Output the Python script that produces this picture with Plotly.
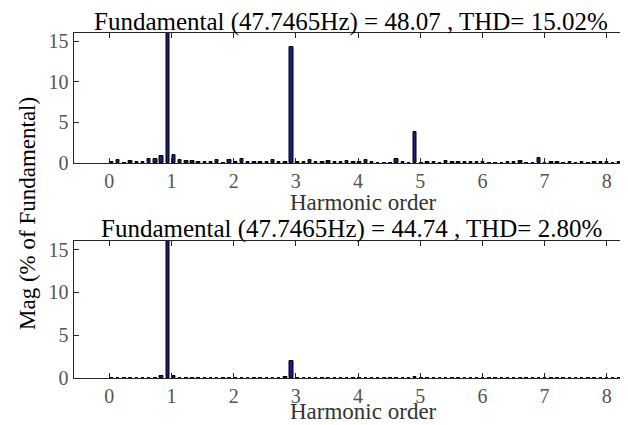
import plotly.graph_objects as go

# The page body adds an 8 px offset; the figure fills the rest of the 628x425 window.
OFF = 8
W, H = 628 - OFF, 425 - OFF

# Harmonic-order bins (FFT bin k shown at its harmonic-order position)
bin_index = list(range(1, 84))
bin_step = 0.0995
bin_offset = -0.055
orders = [round(bin_step * k + bin_offset, 4) for k in bin_index]

# Top spectrum: magnitudes (% of fundamental), bins 1..83
mag_top = [
    0.17, 0.37, 0.05, 0.20, 0.17, 0.17, 0.50, 0.50, 0.90, 100.0,
    0.95, 0.40, 0.30, 0.20, 0.17, 0.17, 0.17, 0.37, 0.02, 0.37,
    0.15, 0.50, 0.15, 0.08, 0.08, 0.15, 0.37, 0.17, 0.15, 14.25,
    0.12, 0.15, 0.37, 0.08, 0.08, 0.25, 0.12, 0.12, 0.20, 0.08,
    0.12, 0.37, 0.12, 0.02, 0.02, 0.02, 0.55, 0.15, 0.02, 3.77,
    0.02, 0.15, 0.12, 0.02, 0.25, 0.10, 0.10, 0.08, 0.17, 0.15,
    0.12, 0.02, 0.02, 0.02, 0.08, 0.12, 0.30, 0.02, 0.02, 0.66,
    0.05, 0.08, 0.08, 0.02, 0.10, 0.02, 0.08, 0.02, 0.08, 0.10,
    0.08, 0.02, 0.08,
]

# Bottom spectrum: magnitudes (% of fundamental), bins 1..83
mag_bot = [
    0.03, 0.03, 0.03, 0.03, 0.03, 0.03, 0.03, 0.05, 0.27, 100.0,
    0.20, 0.04, 0.03, 0.03, 0.03, 0.03, 0.03, 0.03, 0.03, 0.03,
    0.03, 0.03, 0.03, 0.03, 0.03, 0.03, 0.03, 0.03, 0.10, 1.95,
    0.05, 0.03, 0.03, 0.03, 0.03, 0.03, 0.03, 0.03, 0.03, 0.03,
    0.03, 0.03, 0.03, 0.03, 0.03, 0.03, 0.03, 0.03, 0.03, 0.12,
    0.03, 0.03, 0.03, 0.03, 0.03, 0.03, 0.03, 0.03, 0.03, 0.03,
    0.03, 0.03, 0.03, 0.03, 0.03, 0.03, 0.03, 0.03, 0.03, 0.03,
    0.03, 0.03, 0.03, 0.03, 0.03, 0.03, 0.03, 0.03, 0.03, 0.03,
    0.03, 0.03, 0.03,
]

title_top = "Fundamental (47.7465Hz) = 48.07 , THD= 15.02%"
title_bot = "Fundamental (47.7465Hz) = 44.74 , THD= 2.80%"
x_ticks = [0, 1, 2, 3, 4, 5, 6, 7, 8]
y_ticks = [0, 5, 10, 15]

FONT = "Liberation Serif, Times New Roman, serif"
BAR = "rgb(28,28,128)"
AX = "#262626"
TICKC = "#555555"

fig = go.Figure()
bar_kw = dict(width=0.055, marker=dict(color=BAR, line=dict(color="black", width=1)))
fig.add_trace(go.Bar(x=orders, y=mag_top, xaxis="x", yaxis="y", **bar_kw))
fig.add_trace(go.Bar(x=orders, y=mag_bot, xaxis="x2", yaxis="y2", **bar_kw))

# positions given in window pixels
def px2x(p):
    return (p - OFF) / W
def px2y(p):
    return 1 - (p - OFF) / H

left, right = 73.5, 627.0

xcommon = dict(range=[-0.576, 8.326], tickvals=x_ticks, ticks="inside", ticklen=5,
               tickcolor=AX, showline=True, linecolor=AX, linewidth=1, mirror="ticks",
               showgrid=False, zeroline=False, automargin=False,
               tickfont=dict(family=FONT, size=20, color=TICKC))
ycommon = dict(range=[0, 16], tickvals=y_ticks, ticks="inside", ticklen=5,
               tickcolor=AX, showline=True, linecolor=AX, linewidth=1, mirror="ticks",
               showgrid=False, zeroline=False, automargin=False,
               tickfont=dict(family=FONT, size=20, color=TICKC))

fig.update_layout(
    width=W, height=H,
    margin=dict(l=0, r=0, t=0, b=0),
    paper_bgcolor="white", plot_bgcolor="white",
    showlegend=False, bargap=0,
    xaxis=dict(domain=[px2x(left), px2x(right)], anchor="y", **xcommon),
    yaxis=dict(domain=[px2y(163), px2y(33)], anchor="x", **ycommon),
    xaxis2=dict(domain=[px2x(left), px2x(right)], anchor="y2", **xcommon),
    yaxis2=dict(domain=[px2y(378), px2y(241)], anchor="x2", **ycommon),
)

ann = []
def add_text(text, xp, yp, size, color="black", angle=0):
    ann.append(dict(text=text, x=px2x(xp), y=px2y(yp), xref="paper", yref="paper",
                    showarrow=False, xanchor="center", yanchor="middle", textangle=angle,
                    font=dict(family=FONT, size=size, color=color)))

add_text(title_top, 351, 22, 25)
add_text(title_bot, 351, 229, 25)
add_text("Harmonic order", 363, 202, 23, color="#333333")
add_text("Harmonic order", 363, 411, 23, color="#333333")
add_text("Mag (% of Fundamental)", 27, 214, 23, color="black", angle=-90)
fig.update_layout(annotations=ann)

fig.write_html("out.html")
